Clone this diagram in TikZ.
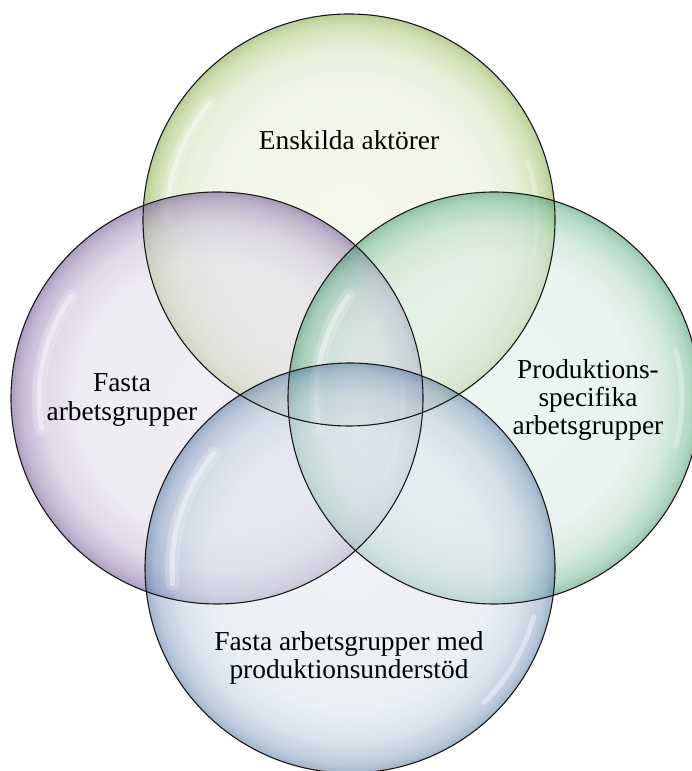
\documentclass[tikz,border=0pt]{standalone}
\usepackage{fontspec}
\setmainfont{Liberation Serif}
\definecolor{cT}{RGB}{145,180,75}
\definecolor{cL}{RGB}{115,88,155}
\definecolor{cR}{RGB}{75,165,120}
\definecolor{cB}{RGB}{95,132,175}
\pgfdeclareradialshading{shT}{\pgfpointorigin}{color(0bp)=(cT!18); color(17bp)=(cT!22); color(21bp)=(cT!40); color(23.8bp)=(cT!75); color(25bp)=(cT!90!black); color(50bp)=(cT!90!black)}
\pgfdeclareradialshading{shL}{\pgfpointorigin}{color(0bp)=(cL!18); color(17bp)=(cL!22); color(21bp)=(cL!40); color(23.8bp)=(cL!75); color(25bp)=(cL!90!black); color(50bp)=(cL!90!black)}
\pgfdeclareradialshading{shR}{\pgfpointorigin}{color(0bp)=(cR!18); color(17bp)=(cR!22); color(21bp)=(cR!40); color(23.8bp)=(cR!75); color(25bp)=(cR!90!black); color(50bp)=(cR!90!black)}
\pgfdeclareradialshading{shB}{\pgfpointorigin}{color(0bp)=(cB!18); color(17bp)=(cB!22); color(21bp)=(cB!40); color(23.8bp)=(cB!75); color(25bp)=(cB!90!black); color(50bp)=(cB!90!black)}
\begin{document}
\begin{tikzpicture}[x=1bp,y=1bp,
  rim/.style={draw=black!90, line width=1.1bp},
  glow/.style={draw=white, line width=5bp, line cap=round, draw opacity=0.4},
  softglow/.style={draw=white, line width=14bp, line cap=round, draw opacity=0.2},
  glass/.style={fill opacity=0.55},
  lbl/.style={font=\fontsize{27.5}{28.5}\selectfont, align=center, text=black, inner sep=0pt}]
\fill[white] (0,0) rectangle (692,771);
\useasboundingbox (0,0) rectangle (692,771);
% top circle
\shade[glass, shading=shT] (349,551) circle (206);
\draw[softglow] (349,551) ++(140:182) arc[start angle=140, end angle=180, radius=182];
\draw[glow] (349,551) ++(140:182) arc[start angle=140, end angle=180, radius=182];
\draw[glow, draw opacity=0.3] (349,551) ++(-10:188) arc[start angle=-10, end angle=18, radius=188];
% left circle
\shade[glass, shading=shL] (217,373) circle (206);
\draw[softglow] (217,373) ++(145:178) arc[start angle=145, end angle=190, radius=178];
\draw[glow] (217,373) ++(145:178) arc[start angle=145, end angle=190, radius=178];
\draw[glow, draw opacity=0.3] (217,373) ++(-25:186) arc[start angle=-25, end angle=5, radius=186];
% right circle
\shade[glass, shading=shR] (494,373) circle (206);
\draw[softglow] (494,373) ++(145:178) arc[start angle=145, end angle=190, radius=178];
\draw[glow] (494,373) ++(145:178) arc[start angle=145, end angle=190, radius=178];
\draw[glow, draw opacity=0.3] (494,373) ++(-15:188) arc[start angle=-15, end angle=15, radius=188];
% bottom circle
\shade[glass, shading=shB] (350,203) circle (205);
\draw[softglow] (350,203) ++(140:178) arc[start angle=140, end angle=185, radius=178];
\draw[glow] (350,203) ++(140:178) arc[start angle=140, end angle=185, radius=178];
\draw[glow, draw opacity=0.4] (350,203) ++(-45:190) arc[start angle=-45, end angle=-15, radius=190];
% outlines
\draw[rim] (349,551) circle (206);
\draw[rim] (217,373) circle (206);
\draw[rim] (494,373) circle (206);
\draw[rim] (350,203) circle (205);
% labels
\node[lbl] (tl) at (349,631) {Enskilda aktörer};
\node[lbl] (ll) at (122,371) {Fasta\\arbetsgrupper};
\node[lbl] (rl) at (588,371) {Produktions-\\specifika\\arbetsgrupper};
\node[lbl] (bl) at (349,113) {Fasta arbetsgrupper med\\produktionsunderstöd};
\end{tikzpicture}
\end{document}
